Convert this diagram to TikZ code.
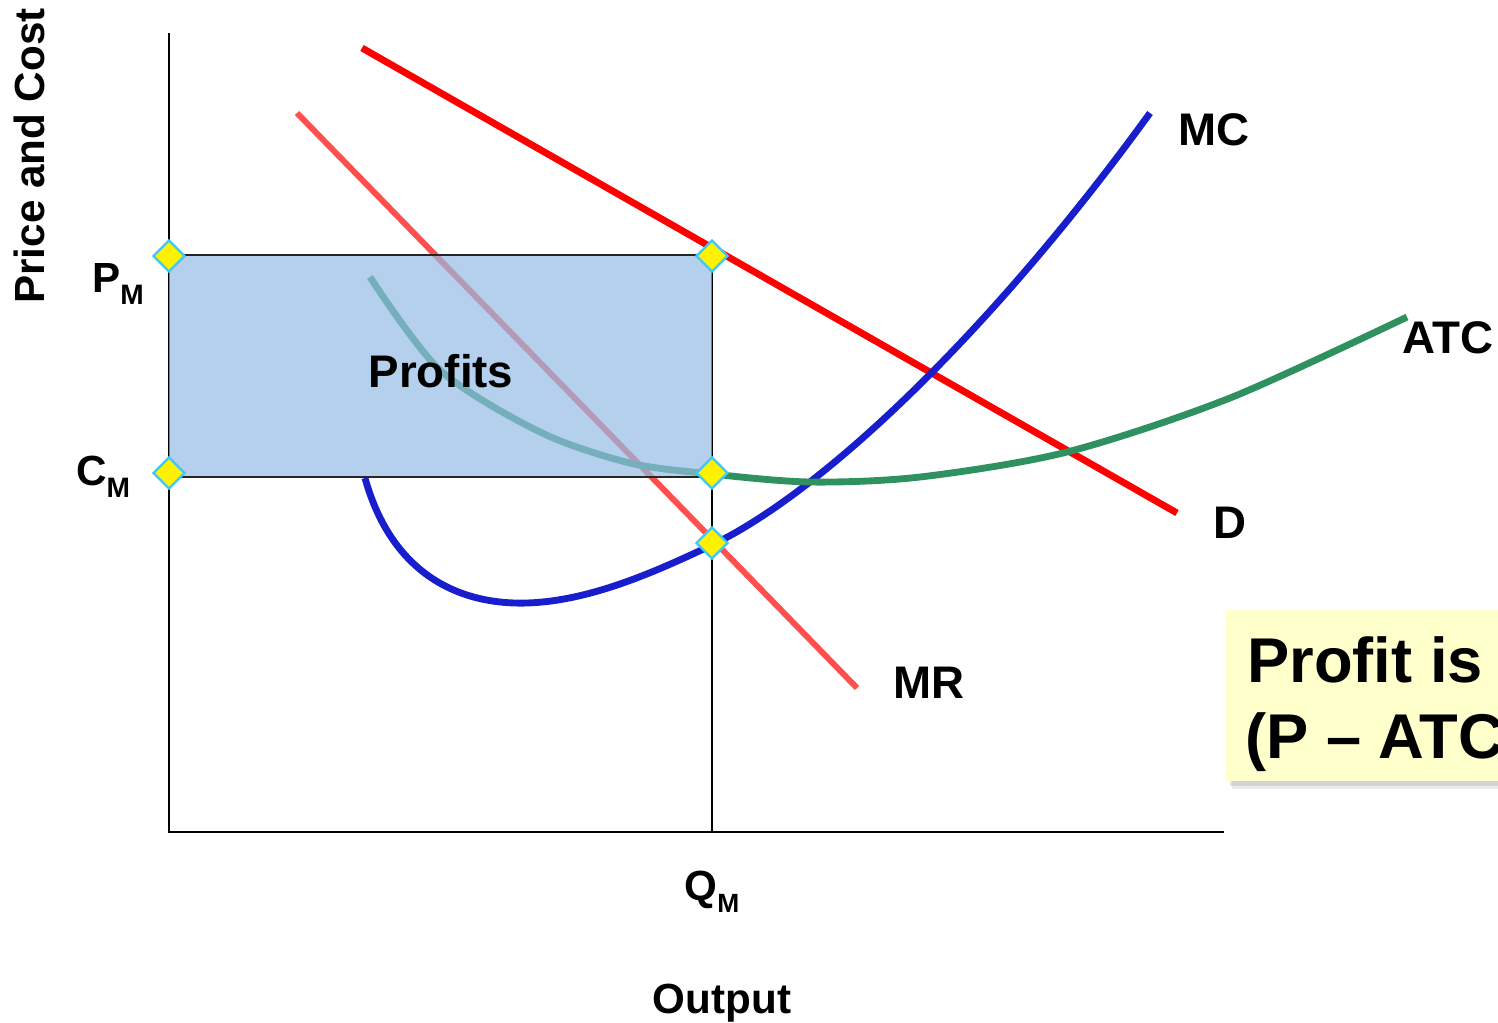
\documentclass[tikz,border=0pt]{standalone}
\usepackage{fontspec}
\setmainfont{Liberation Sans}
\usetikzlibrary{shapes.geometric,shadows}
\definecolor{dred}{RGB}{255,0,0}
\definecolor{mrred}{RGB}{255,80,80}
\definecolor{mcblue}{RGB}{25,30,205}
\definecolor{atcgreen}{RGB}{46,145,95}
\definecolor{boxblue}{RGB}{148,188,228}
\definecolor{dcyan}{RGB}{60,200,250}
\definecolor{noteyel}{RGB}{255,255,204}
\tikzset{
  curve/.style={line width=3.9pt, line cap=butt},
  axis/.style={line width=1.3pt, black},
  marker/.style={diamond, draw=dcyan, fill=yellow, line width=1.3pt, minimum width=32*0.02cm, minimum height=32*0.02cm, inner sep=0pt},
  lbl/.style={font=\bfseries\fontsize{26}{30}\selectfont, anchor=base, inner sep=0pt},
  axlbl/.style={font=\bfseries\fontsize{24}{28}\selectfont, anchor=base, inner sep=0pt},
  note/.style={font=\bfseries\fontsize{36}{40}\selectfont, anchor=base west, inner sep=0pt}
}
\newcommand{\subm}[1]{\raisebox{-0.3em}{\fontsize{#1}{#1}\selectfont M}}
\begin{document}
\begin{tikzpicture}[x=0.02cm, y=-0.02cm]
\useasboundingbox (0,0) rectangle (1498,1022);
\clip (0,0) rectangle (1498,1022);
% axes
\draw[axis] (169,33) -- (169,832) -- (1224,832);
\draw[axis] (712,255) -- (712,832);
% curves
\draw[curve, dred] (362,48) -- (1177,513);
\draw[curve, mrred, line width=3.4pt] (297,113) -- (857,688);
\draw[curve, mcblue] (365,478) .. controls (392,575) and (460,605) .. (527,603)
   .. controls (590,601) and (655,572) .. (712,545)
   .. controls (830,488) and (1000,320) .. (1150,113);
\draw[curve, atcgreen] plot[smooth, tension=0.5] coordinates {(370,277) (440,370) (540,432) (630,463) (712,474) (810,482) (920,477) (1067,452) (1230,398) (1407,317)};
% profit rectangle
\fill[boxblue, opacity=0.7] (169,255) rectangle (712,477);
\draw[line width=1.6pt, black!85] (169,255) -- (712,255);
\draw[line width=1.6pt, black!85] (169,477) -- (712,477);
% markers
\node[marker] (pm) at (169,256) {};
\node[marker] (pd) at (712,256) {};
\node[marker] (cm) at (169,473) {};
\node[marker] (ca) at (712,473) {};
\node[marker] (mm) at (712,543) {};
% labels
\node[axlbl, rotate=90] (ylab) at (44,156) {Price and Cost};
\node[axlbl] (xlab) at (722,1013) {Output};
\node[axlbl] (pml) at (118,292) {P\subm{16}};
\node[axlbl] (cml) at (103,485) {C\subm{16}};
\node[axlbl] (qml) at (712,900) {Q\subm{15}};
\node[lbl] (mcl) at (1214,145) {MC};
\node[lbl] (atcl) at (1448,353) {ATC};
\node[lbl] (dl) at (1230,538) {D};
\node[lbl] (mrl) at (929,698) {MR};
\node[lbl] (prl) at (441,387) {Profits};
% note box
\fill[black, opacity=0.08] (1232,618) rectangle (1510,789);
\fill[black, opacity=0.10] (1230,616) rectangle (1510,786);
\fill[noteyel] (1226,610) rectangle (1510,781);
\node[note] (n1) at (1247,682) {Profit is};
\node[note] (n2) at (1245,758) {(P – ATC)};
\end{tikzpicture}
\end{document}
